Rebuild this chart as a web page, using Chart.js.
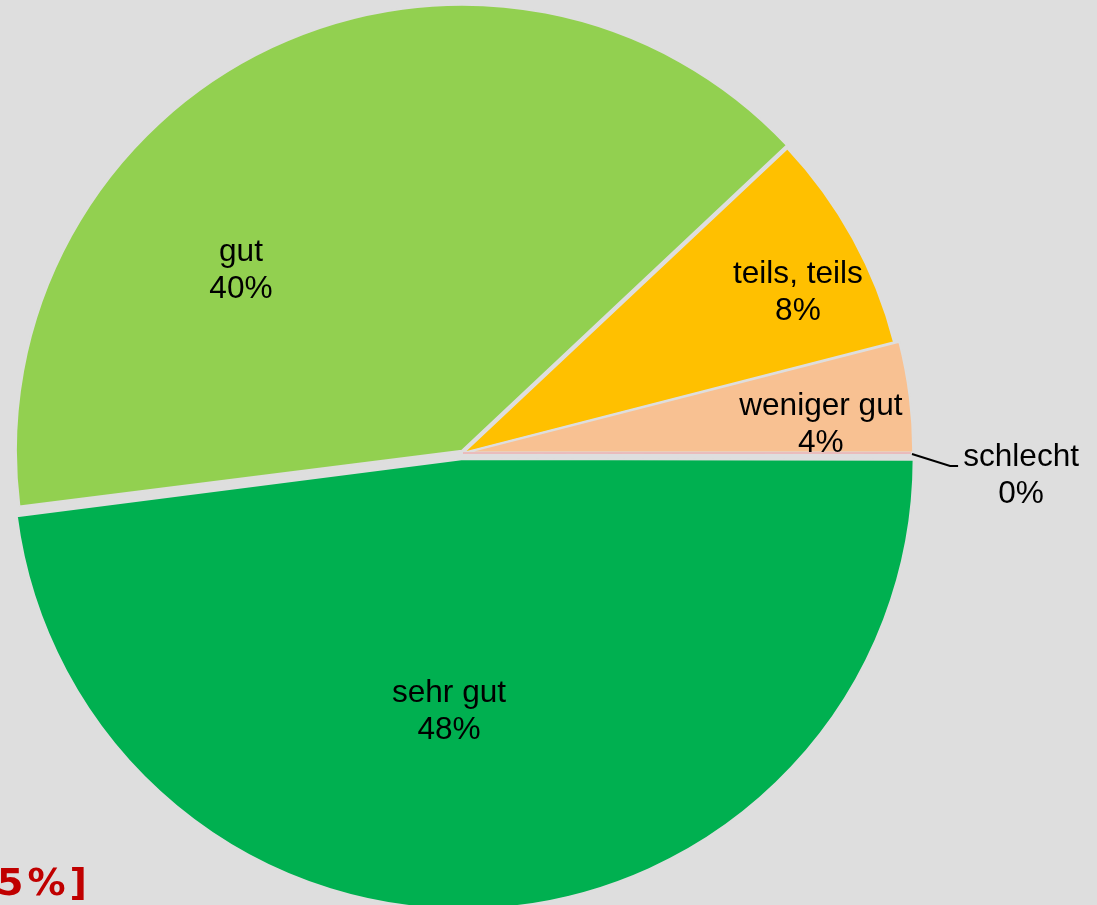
<!DOCTYPE html>
<html>
<head>
<meta charset="utf-8">
<script src="https://cdn.jsdelivr.net/npm/chart.js@4.4.1/dist/chart.umd.min.js"></script>
<style>
  html, body { margin: 0; padding: 0; background: #dedede; overflow: hidden; }
  #wrap { position: relative; width: 1097px; height: 905px; }
  canvas { display: block; }
</style>
</head>
<body>
<div id="wrap"><canvas id="c" width="1097" height="905"></canvas></div>
<script>
// ---- data ----
const categories = ["sehr gut", "gut", "teils, teils", "weniger gut", "schlecht"];
const shares = [48, 40, 8, 4, 0];
const percentLabels = ["48%", "40%", "8%", "4%", "0%"];
const cornerText = "5%]";

// ---- styles ----
const sliceColors = ["#00b050", "#92d050", "#ffc000", "#f8c192", "#eeb0b0"];
const sliceBorders = ["#dedede", "#dedede", "#dedede", "#dedede", "#eeb0b0"];
const sliceOffsets = [24, 10, 0, 12, 0]; // Chart.js v4 translates by offset/4
// label placement: angle in degrees clockwise from east, distance as fraction of radius
const labelAngle = [93.12, 219.65, 334.2, 355.2, 2.155];
const labelDist = [0.578, 0.648, 0.836, 0.807, 1.255];

const labelPlugin = {
  id: 'sliceLabels',
  afterDatasetsDraw(chart) {
    const ctx = chart.ctx;
    const meta = chart.getDatasetMeta(0);
    const arc0 = meta.data[0];
    const cx = arc0.x, cy = arc0.y, r = arc0.outerRadius;
    ctx.save();
    // zero-value slice drawn as a thin radial line (as the original does)
    const z = meta.data[4];
    ctx.strokeStyle = sliceColors[4];
    ctx.lineWidth = 1.5;
    ctx.beginPath();
    ctx.moveTo(cx, cy);
    ctx.lineTo(cx + Math.cos(z.startAngle) * (r + 3), cy + Math.sin(z.startAngle) * (r + 3));
    ctx.stroke();

    ctx.font = '31.6px "Liberation Sans", Arial, sans-serif';
    ctx.fillStyle = '#000000';
    ctx.textAlign = 'center';
    ctx.textBaseline = 'middle';
    const lh = 37;
    categories.forEach((cat, i) => {
      const a = labelAngle[i] * Math.PI / 180;
      const x = cx + Math.cos(a) * r * labelDist[i];
      const y = cy + Math.sin(a) * r * labelDist[i] + 2;
      ctx.fillText(cat, x, y - lh / 2);
      ctx.fillText(percentLabels[i], x, y + lh / 2);
      if (i === 4) {
        ctx.strokeStyle = '#000000';
        ctx.lineWidth = 2;
        ctx.beginPath();
        ctx.moveTo(cx + r + 4, cy + 1);
        ctx.lineTo(x - 71, y - 10);
        ctx.lineTo(x - 63, y - 10);
        ctx.stroke();
      }
    });
    // cut-off red text at the bottom left
    ctx.font = 'bold 38px "DejaVu Sans", Verdana, sans-serif';
    ctx.fillStyle = '#c00000';
    ctx.textAlign = 'left';
    ctx.textBaseline = 'alphabetic';
    try { ctx.letterSpacing = '4px'; } catch (e) {}
    ctx.fillText(cornerText, -3, 895);
    ctx.restore();
  }
};

new Chart(document.getElementById('c'), {
  type: 'pie',
  data: {
    labels: categories,
    datasets: [{
      data: shares,
      backgroundColor: sliceColors,
      borderColor: sliceBorders,
      borderWidth: [2, 2, 2, 2, 0],
      offset: sliceOffsets
    }]
  },
  options: {
    responsive: false,
    animation: false,
    rotation: 90,
    radius: 445,
    layout: { padding: { left: 14, right: 185, top: 4, bottom: 3 } },
    plugins: {
      legend: { display: false },
      tooltip: { enabled: false },
      title: { display: false }
    }
  },
  plugins: [labelPlugin]
});
</script>
</body>
</html>
